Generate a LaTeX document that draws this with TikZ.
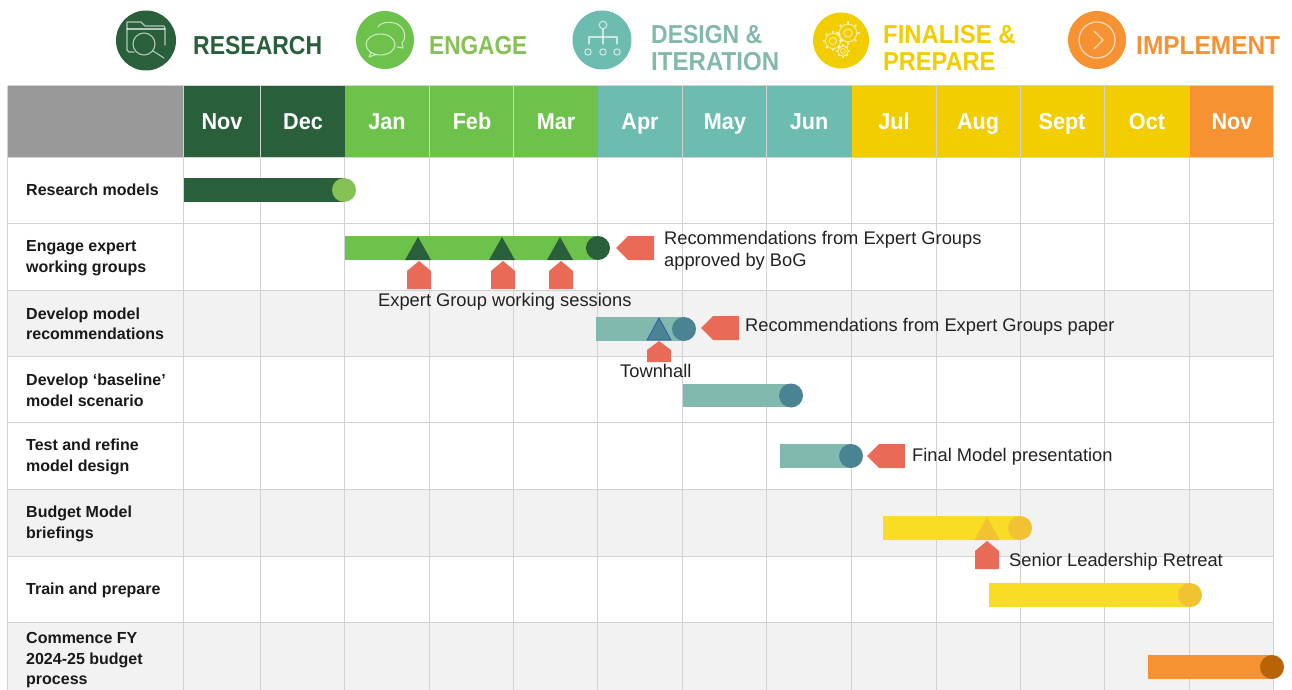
\documentclass[tikz,border=0pt]{standalone}
\usepackage{graphicx}
\usepackage{fontspec}
\setmainfont{Liberation Sans}
\newfontfamily\stretchfont[FakeStretch=0.94]{Liberation Sans}
\definecolor{cdg}{HTML}{2A5F3B}
\definecolor{cgr}{HTML}{6CC24A}
\definecolor{cte}{HTML}{6DBCB0}
\definecolor{cye}{HTML}{F2CD00}
\definecolor{cor}{HTML}{F79233}
\definecolor{cgrt}{HTML}{85C155}
\definecolor{ctet}{HTML}{82B9AC}
\definecolor{cgrid}{HTML}{D2D2D2}
\definecolor{cband}{HTML}{F2F2F2}
\definecolor{cred}{HTML}{E96A56}
\definecolor{cbarte}{HTML}{82B9AE}
\definecolor{cdot}{HTML}{4A8392}
\definecolor{cbarye}{HTML}{F9DC24}
\definecolor{cdotye}{HTML}{F1C232}
\definecolor{cdotor}{HTML}{B86306}
\definecolor{ctxt}{HTML}{222222}
\definecolor{chead}{HTML}{999999}
\newcommand{\hs}[2]{\scalebox{#1}[1]{#2}}
\tikzset{
  x=1pt,y=-1pt,
  gridline/.style={draw=cgrid,line width=1.2pt},
  hcell/.style={draw=cgrid,line width=0.8pt},
  month/.style={text=white,font=\stretchfont\bfseries\fontsize{23}{23}\selectfont,anchor=base,inner sep=0pt},
  rowlabel/.style={anchor=west,align=left,text=black!90,inner sep=0pt,font=\bfseries\fontsize{16}{20.5}\selectfont},
  note/.style={anchor=base west,align=left,text=ctxt,inner sep=0pt,font=\fontsize{18.3}{22}\selectfont},
  heading/.style={anchor=base west,inner sep=0pt,font=\stretchfont\bfseries\fontsize{26}{27}\selectfont},
  headingtwo/.style={anchor=west,align=left,inner sep=0pt,font=\stretchfont\bfseries\fontsize{26}{27}\selectfont},
  icon/.style={draw=white,draw opacity=0.65,line width=1.1pt,fill=none,line join=round,line cap=round},
  flag/.style={fill=cred,draw=none},
}
\newcommand{\upflag}[2]{\fill[flag] (#1-12,#2+28) -- (#1-12,#2+10) -- (#1,#2) -- (#1+12,#2+10) -- (#1+12,#2+28) -- cycle;}
\newcommand{\leftflag}[2]{\fill[flag] (#1,#2) -- (#1+12,#2-12) -- (#1+38,#2-12) -- (#1+38,#2+12) -- (#1+12,#2+12) -- cycle;}
\newcommand{\tri}[4]{\fill[#4] (#1,#2) -- (#1+13,#3) -- (#1-13,#3) -- cycle;}
\newcommand{\gantt}[6]{\fill[#5] (#1,#3) rectangle (#2,#4);\fill[#6] (#2,#3/2+#4/2) circle[radius=12];}
\newcommand{\gear}[3]{%
  \draw[icon,line width=0.9pt] (#1,#2) circle[radius=#3*0.8];
  \draw[icon,line width=0.9pt] (#1,#2) circle[radius=#3*0.38];
  \foreach \a in {0,45,...,315}{\draw[icon,line width=2pt,line cap=butt] (#1,#2) ++(\a:#3*0.8) -- ++(\a:#3*0.25);}
}
\begin{document}
\begin{tikzpicture}
\useasboundingbox (0,0) rectangle (1292,690);
\fill[white] (0,0) rectangle (1292,690);
% bands
\fill[cband] (7.5,290.5) rectangle (1273.5,356.5);
\fill[cband] (7.5,489.5) rectangle (1273.5,556.5);
\fill[cband] (7.5,622.5) rectangle (1273.5,690);
% header
\fill[chead] (7.5,86) rectangle (183.5,157.5);
\fill[cdg] (183.5,86) rectangle (344.5,157.5);
\fill[cgr] (344.5,86) rectangle (597.5,157.5);
\fill[cte] (597.5,86) rectangle (851.5,157.5);
\fill[cye] (851.5,86) rectangle (1189.5,157.5);
\fill[cor] (1189.5,86) rectangle (1273.5,157.5);
\draw[hcell] (7.5,85.5) -- (1273.5,85.5);
\foreach \x in {7.5,183.5,260.5,1273.5,429.5,513.5,682.5,766.5,936.5,1020.5,1104.5}
  \draw[hcell] (\x,86) -- (\x,157.5);
% grid
\foreach \x in {7.5,183.5,260.5,344.5,429.5,513.5,597.5,682.5,766.5,851.5,936.5,1020.5,1104.5,1189.5,1273.5}
  \draw[gridline] (\x,157.5) -- (\x,690);
\foreach \y in {157.5,223.5,290.5,356.5,422.5,489.5,556.5,622.5}
  \draw[gridline] (7.5,\y) -- (1273.5,\y);
% months
\node[month] (m1) at (222,129) {Nov};
\node[month] (m2) at (303,129) {Dec};
\node[month] (m3) at (387,129) {Jan};
\node[month] (m4) at (472,129) {Feb};
\node[month] (m5) at (556,129) {Mar};
\node[month] (m6) at (640,129) {Apr};
\node[month] (m7) at (725,129) {May};
\node[month] (m8) at (809,129) {Jun};
\node[month] (m9) at (894,129) {Jul};
\node[month] (m10) at (978,129) {Aug};
\node[month] (m11) at (1062,129) {Sept};
\node[month] (m12) at (1147,129) {Oct};
\node[month] (m13) at (1232,129) {Nov};
% row labels
\node[rowlabel] (r1) at (26,190) {Research models};
\node[rowlabel] (r2) at (26,258) {Engage expert\\working groups};
\node[rowlabel] (r3) at (26,324) {Develop model\\recommendations};
\node[rowlabel] (r4) at (26,390.5) {Develop ‘baseline’\\model scenario};
\node[rowlabel] (r5) at (26,457) {Test and refine\\model design};
\node[rowlabel] (r6) at (26,524) {Budget Model\\briefings};
\node[rowlabel] (r7) at (26,590.5) {Train and prepare};
\node[rowlabel] (r8) at (26,660.5) {Commence FY\\2024-25 budget\\process};
% bars
\gantt{184}{344}{178}{202}{cdg}{cgrt}
\gantt{345}{598}{236}{260}{cgr}{cdg}
\gantt{596}{684}{317}{341}{cbarte}{cdot}
\gantt{683}{791}{384}{407}{cbarte}{cdot}
\gantt{780}{851}{444}{468}{cbarte}{cdot}
\gantt{883}{1020}{516}{540}{cbarye}{cdotye}
\gantt{989}{1190}{583}{607}{cbarye}{cdotye}
\gantt{1148}{1272}{655}{679}{cor}{cdotor}
% milestones
\tri{418}{237}{260}{cdg}
\tri{502}{237}{260}{cdg}
\tri{560}{237}{260}{cdg}
\filldraw[fill=cdot,draw=blue!30!cdot,line width=0.8pt] (659,318) -- (671,340) -- (647,340) -- cycle;
\fill[cdotye] (987,517) -- (999.5,540) -- (974.5,540) -- cycle;
% flags
\upflag{419}{261}
\upflag{503}{261}
\upflag{561}{261}
\fill[flag] (647,362) -- (647,350) -- (659,341) -- (671,350) -- (671,362) -- cycle;
\upflag{987}{541}
\leftflag{616}{248}
\leftflag{701}{328}
\leftflag{867}{456}
% notes
\node[note] (n2) at (378,306) {Expert Group working sessions};
\node[note] (n3) at (745,331.5) {Recommendations from Expert Groups paper};
\node[note] (n4) at (620,377.5) {Townhall};
\node[note] (n5) at (912,461) {Final Model presentation};
\node[note] (n6) at (1009,566) {Senior Leadership Retreat};
\node[note,anchor=west] (n1) at (664,250.5) {Recommendations from Expert Groups\\approved by BoG};
% heading icons
\fill[cdg] (146,40.5) circle[radius=30];
\fill[cgr] (385,40) circle[radius=29];
\fill[cte] (602,40) circle[radius=29.5];
\fill[cye] (841,40.5) circle[radius=28];
\fill[cor] (1097,40) circle[radius=29];
% research icon: folder and magnifier
\draw[icon] (134,52) -- (129,52) -- (127,50) -- (127,22) -- (141,22) -- (145,26) -- (164,26) -- (165,28) -- (165,45);
\draw[icon] (127,29) -- (165,29);
\draw[icon] (144,44) circle[radius=11];
\draw[icon] (153,51) -- (164,58);
% engage icon: speech bubbles
\draw[icon] (378,27) .. controls (381,21) and (395,21) .. (400,26) .. controls (406,31) and (406,39) .. (402,43) -- (403,48) -- (397,47);
\draw[icon] (380.5,44.5) circle[x radius=14.5,y radius=10.5];
\draw[icon] (371,52.5) -- (369,57) -- (376,54.5);
% design icon: org chart
\draw[icon] (603,25) circle[radius=3.8];
\draw[icon] (603,29) -- (603,44);
\draw[icon] (589,44) -- (589,37) -- (617,37) -- (617,44);
\draw[icon] (588,52) circle[radius=3.2];
\draw[icon] (603,52) circle[radius=3.2];
\draw[icon] (617,52) circle[radius=3.2];
% finalise icon: gears
\gear{848}{33}{11}
\gear{833}{41}{9.5}
\gear{843}{51}{6.5}
% implement icon
\draw[icon,line width=1.3pt] (1097,40) circle[radius=18];
\draw[icon,line width=1.3pt] (1094,31) -- (1103,40) -- (1094,49);
% headings
\node[heading,text=cdg] (h1) at (193,55) {\hs{0.94}{RESEARCH}};
\node[heading,text=cgrt] (h2) at (429,55) {\hs{0.925}{ENGAGE}};
\node[headingtwo,text=ctet] (h3) at (651,48.5) {\hs{0.94}{DESIGN \&}\\\hs{0.985}{ITERATION}};
\node[headingtwo,text=cye] (h4) at (883,47.5) {\hs{0.975}{FINALISE \&}\\\hs{0.965}{PREPARE}};
\node[heading,text=cor] (h5) at (1136,55) {IMPLEMENT};
\end{tikzpicture}
\end{document}
